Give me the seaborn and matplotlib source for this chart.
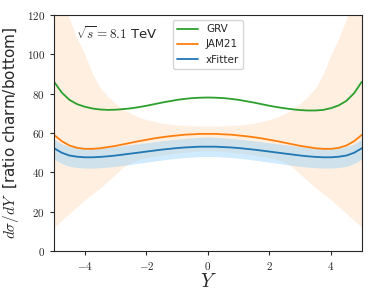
import numpy as np
import pandas as pd
import matplotlib
matplotlib.use('Agg')
import matplotlib.pyplot as plt
import seaborn as sns
from matplotlib.ticker import FuncFormatter

# rapidity grid
rapidity = [-5.0, -4.75, -4.5, -4.25, -4.0, -3.75, -3.5, -3.25, -3.0, -2.75, -2.5,
            -2.25, -2.0, -1.75, -1.5, -1.25, -1.0, -0.75, -0.5, -0.25, 0.0,
            0.25, 0.5, 0.75, 1.0, 1.25, 1.5, 1.75, 2.0, 2.25, 2.5,
            2.75, 3.0, 3.25, 3.5, 3.75, 4.0, 4.25, 4.5, 4.75, 5.0]

# ratio charm/bottom
grv = [86.0, 80.5, 76.8, 74.6, 73.3, 72.4, 71.9, 71.7, 71.8, 72.1, 72.5,
       73.1, 73.8, 74.6, 75.4, 76.1, 76.8, 77.3, 77.7, 77.9, 78.0,
       77.9, 77.7, 77.3, 76.8, 76.1, 75.4, 74.6, 73.8, 73.1, 72.5,
       72.0, 71.6, 71.4, 71.4, 71.7, 72.6, 74.0, 76.3, 80.2, 86.0]
jam21 = [59.0, 55.8, 53.6, 52.4, 51.9, 51.9, 52.2, 52.8, 53.4, 54.2, 55.0,
         55.8, 56.5, 57.2, 57.8, 58.3, 58.7, 59.1, 59.3, 59.5, 59.5,
         59.5, 59.3, 59.1, 58.7, 58.3, 57.8, 57.2, 56.5, 55.8, 55.0,
         54.2, 53.4, 52.8, 52.2, 51.9, 51.9, 52.4, 53.6, 55.8, 59.0]
xfitter = [52.2, 49.9, 48.5, 47.9, 47.6, 47.6, 47.8, 48.1, 48.5, 49.0, 49.5,
           50.0, 50.5, 51.0, 51.5, 51.9, 52.3, 52.6, 52.8, 53.0, 53.0,
           53.0, 52.8, 52.6, 52.3, 51.9, 51.5, 51.0, 50.5, 50.0, 49.5,
           49.0, 48.5, 48.1, 47.8, 47.6, 47.6, 47.9, 48.5, 49.9, 52.2]

# uncertainty bands
jam21_lo = [12.0, 15.5, 19.0, 22.5, 26.0, 29.0, 32.0, 35.5, 39.0, 42.5, 45.0,
            46.5, 47.3, 48.0, 48.7, 49.3, 49.8, 50.3, 50.6, 50.8, 51.0,
            50.8, 50.6, 50.3, 49.8, 49.3, 48.7, 48.0, 47.3, 46.5, 45.0,
            42.5, 39.0, 35.5, 32.0, 29.0, 26.0, 22.5, 19.0, 15.5, 12.0]
jam21_hi = [140.0, 130.0, 118.0, 108.0, 100.0, 90.0, 83.0, 78.5, 75.0, 72.0, 69.8,
            68.0, 66.8, 65.8, 65.0, 64.4, 64.0, 63.8, 63.6, 63.5, 63.5,
            63.5, 63.6, 63.8, 64.0, 64.4, 65.0, 65.8, 66.8, 68.0, 69.8,
            72.0, 75.0, 78.5, 83.0, 90.0, 100.0, 108.0, 118.0, 130.0, 140.0]
xfitter_lo = [46.7, 44.4, 43.0, 42.4, 42.1, 42.1, 42.3, 42.6, 43.0, 43.5, 44.0,
              44.6, 45.1, 45.7, 46.2, 46.7, 47.1, 47.5, 47.7, 48.0, 48.0,
              48.0, 47.7, 47.5, 47.1, 46.7, 46.2, 45.7, 45.1, 44.6, 44.0,
              43.5, 43.0, 42.6, 42.3, 42.1, 42.1, 42.4, 43.0, 44.4, 46.7]
xfitter_hi = [56.7, 54.4, 53.0, 52.4, 52.1, 52.1, 52.3, 52.6, 53.0, 53.5, 54.0,
              54.5, 55.0, 55.5, 56.0, 56.4, 56.8, 57.2, 57.5, 57.8, 58.0,
              57.8, 57.5, 57.2, 56.8, 56.4, 56.0, 55.5, 55.0, 54.5, 54.0,
              53.5, 53.0, 52.6, 52.3, 52.1, 52.1, 52.4, 53.0, 54.4, 56.7]

df = pd.DataFrame({'Y': rapidity, 'GRV': grv, 'JAM21': jam21, 'xFitter': xfitter})
long = df.melt(id_vars='Y', var_name='PDF', value_name='ratio')

sns.set_style('ticks')
plt.rcParams['font.family'] = ['DejaVu Sans']
plt.rcParams['mathtext.fontset'] = 'cm'

fig = plt.figure(figsize=(3.73, 2.98), dpi=100)
ax = fig.add_axes([0.145, 0.158, 0.825, 0.792])

# bands first, lines on top
ax.fill_between(rapidity, jam21_lo, jam21_hi, color='tab:orange', alpha=0.12, lw=0)
ax.fill_between(rapidity, xfitter_lo, xfitter_hi, color='lightskyblue', alpha=0.4, lw=0)

palette = {'GRV': 'tab:green', 'JAM21': 'tab:orange', 'xFitter': 'tab:blue'}
sns.lineplot(data=long, x='Y', y='ratio', hue='PDF', palette=palette, ax=ax, lw=1.3)

ax.set_xlim(-5, 5)
ax.set_ylim(0, 120)
ax.set_xticks([-4, -2, 0, 2, 4])
ax.set_yticks([0, 20, 40, 60, 80, 100, 120])
fmt = FuncFormatter(lambda v, p: '$%g$' % v)
ax.xaxis.set_major_formatter(fmt)
ax.yaxis.set_major_formatter(fmt)
ax.tick_params(labelsize=8, length=3)

ax.set_xlabel('$Y$', fontsize=14, labelpad=0)
ax.set_ylabel(r'$d\sigma/dY\ $ [ratio charm/bottom]', fontsize=11, labelpad=4)

ax.text(0.07, 0.92, r'$\sqrt{s} = 8.1$ TeV', transform=ax.transAxes,
        fontsize=9.5, va='center')

ax.legend(loc='upper center', fontsize=7.5, title=None)

fig.savefig('out.png', dpi=100)
